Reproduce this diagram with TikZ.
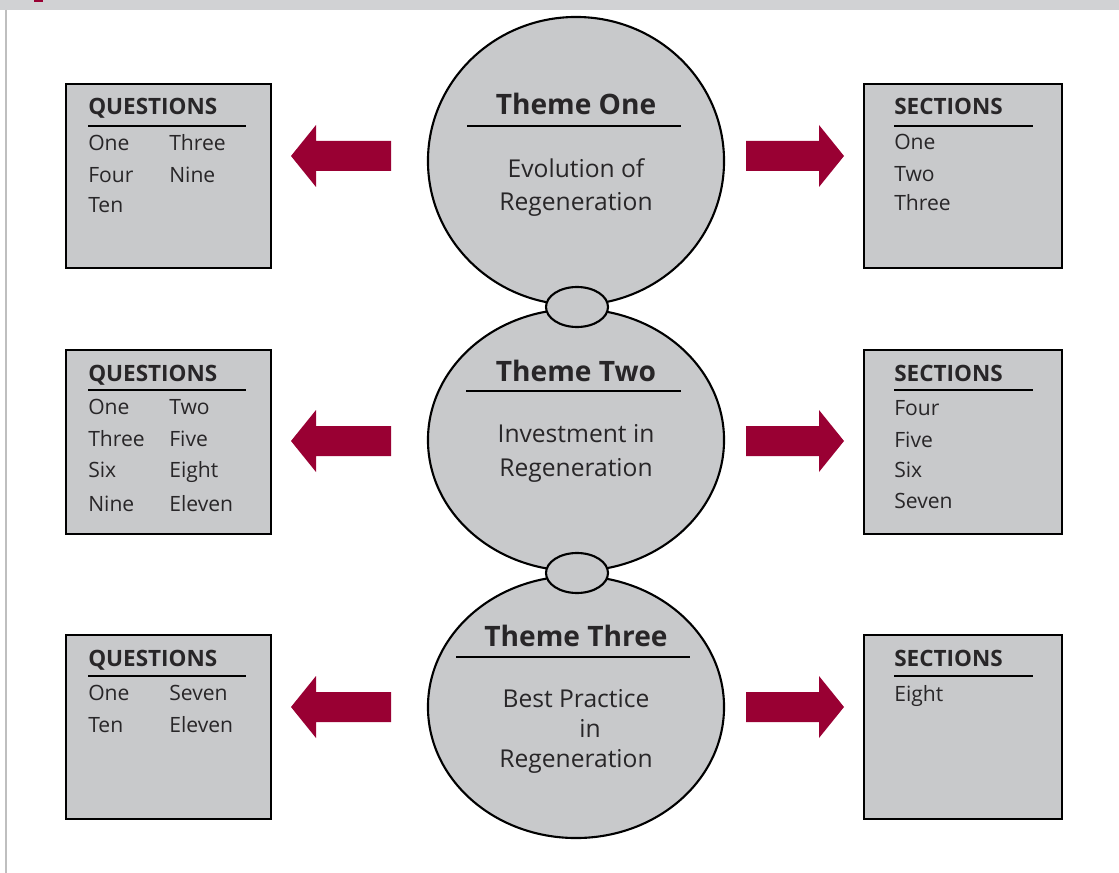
\documentclass[tikz,border=0pt]{standalone}
\usepackage{fontspec}
\setmainfont{Open Sans}
\usetikzlibrary{shapes.geometric}
\definecolor{panelgray}{RGB}{200,201,203}
\definecolor{bargray}{RGB}{209,210,212}
\definecolor{arrowred}{RGB}{153,0,51}
\definecolor{inkgray}{RGB}{40,38,40}
\begin{document}
\begin{tikzpicture}[x=0.025cm,y=-0.025cm,
  listbox/.style={draw=black,line width=1.5pt,fill=panelgray},
  rule/.style={draw=black,line width=2pt},
  theme/.style={ellipse,draw=black,line width=1.5pt,fill=panelgray,inner sep=0pt,minimum width=7.4cm},
  link/.style={ellipse,draw=black,line width=1.5pt,fill=panelgray,inner sep=0pt,minimum width=1.55cm,minimum height=1cm},
  head/.style={anchor=base west,inner sep=0pt,font=\bfseries\fontsize{16}{19}\selectfont,text=inkgray},
  item/.style={anchor=base west,inner sep=0pt,font=\fontsize{15}{18}\selectfont,text=inkgray},
  ttitle/.style={anchor=base,inner sep=0pt,font=\bfseries\fontsize{20}{24}\selectfont,text=inkgray},
  tbody/.style={anchor=base,inner sep=0pt,align=center,font=\fontsize{17.5}{24}\selectfont,text=inkgray},
  redarrow/.style={fill=arrowred,draw=none}]
 \useasboundingbox (0,0) rectangle (1119,873);
 % page frame
 \fill[bargray] (0,0) rectangle (1119,10);
 \fill[arrowred] (34,0) rectangle (43,2);
 \draw[gray!50,line width=0.8pt] (6,10) -- (6,873);
 % theme circles
 \node[theme,minimum height=7.2cm] (themeone) at (576,161) {};
 \node[theme,minimum height=6.55cm] (themetwo) at (576,440) {};
 \node[theme,minimum height=6.55cm] (themethree) at (576,707) {};
 \node[link] (linkone) at (577,307) {};
 \node[link] (linktwo) at (577,573) {};
 % theme texts (base = last line)
 \node[ttitle] (titleone) at (576,115) {Theme One};
 \draw[rule] (467,126) -- (681,126);
 \node[tbody] (bodyone) at (576,211) {Evolution of\\Regeneration};
 \node[ttitle] (titletwo) at (576,381) {Theme Two};
 \draw[rule] (466,391) -- (681,391);
 \node[tbody] (bodytwo) at (576,476) {Investment in\\Regeneration};
 \node[ttitle] (titlethree) at (576,646) {Theme Three};
 \draw[rule] (456,657) -- (690,657);
 \node[tbody,font=\fontsize{17.5}{21.3}\selectfont] (bodythree) at (576,767) {Best Practice\\\hspace*{20pt}in\\Regeneration};
 % arrows
 \foreach \c in {156,441,707}{
  \fill[redarrow] (391,\c-15) -- (316,\c-15) -- (316,\c-31) -- (291,\c) -- (316,\c+31) -- (316,\c+15) -- (391,\c+15) -- cycle;
  \fill[redarrow] (746,\c-15) -- (819,\c-15) -- (819,\c-31) -- (844,\c) -- (819,\c+31) -- (819,\c+15) -- (746,\c+15) -- cycle;
 }
 % question boxes
 \draw[listbox] (66,84) rectangle (271,268);
 \node[head] (qone) at (88,115) {QUESTIONS};
 \draw[rule] (88,126) -- (246,126);
 \node[item] (qoa) at (88,151) {One};
 \node[item] (qob) at (169,151) {Three};
 \node[item] (qoc) at (88,183) {Four};
 \node[item] (qod) at (169,183) {Nine};
 \node[item] (qoe) at (88,213) {Ten};
 \draw[listbox] (66,350) rectangle (271,534);
 \node[head] (qtwo) at (88,381) {QUESTIONS};
 \draw[rule] (88,390) -- (246,390);
 \node[item] (qta) at (88,414) {One};
 \node[item] (qtb) at (169,414) {Two};
 \node[item] (qtc) at (88,446) {Three};
 \node[item] (qtd) at (169,446) {Five};
 \node[item] (qte) at (88,477) {Six};
 \node[item] (qtf) at (169,477) {Eight};
 \node[item] (qtg) at (88,511) {Nine};
 \node[item] (qth) at (169,511) {Eleven};
 \draw[listbox] (66,635) rectangle (271,819);
 \node[head] (qthree) at (88,666) {QUESTIONS};
 \draw[rule] (88,676) -- (246,676);
 \node[item] (qra) at (88,700) {One};
 \node[item] (qrb) at (169,700) {Seven};
 \node[item] (qrc) at (88,732) {Ten};
 \node[item] (qrd) at (169,732) {Eleven};
 % section boxes
 \draw[listbox] (864,84) rectangle (1062,268);
 \node[head] (sone) at (894,115) {SECTIONS};
 \draw[rule] (894,126) -- (1033,126);
 \node[item] (soa) at (894,150) {One};
 \node[item] (sob) at (894,182) {Two};
 \node[item] (soc) at (894,211) {Three};
 \draw[listbox] (864,350) rectangle (1062,534);
 \node[head] (stwo) at (894,381) {SECTIONS};
 \draw[rule] (894,390) -- (1033,390);
 \node[item] (sta) at (894,415) {Four};
 \node[item] (stb) at (894,447) {Five};
 \node[item] (stc) at (894,477) {Six};
 \node[item] (std) at (894,508) {Seven};
 \draw[listbox] (864,635) rectangle (1062,819);
 \node[head] (sthree) at (894,666) {SECTIONS};
 \draw[rule] (894,676) -- (1033,676);
 \node[item] (sra) at (894,701) {Eight};
\end{tikzpicture}
\end{document}
